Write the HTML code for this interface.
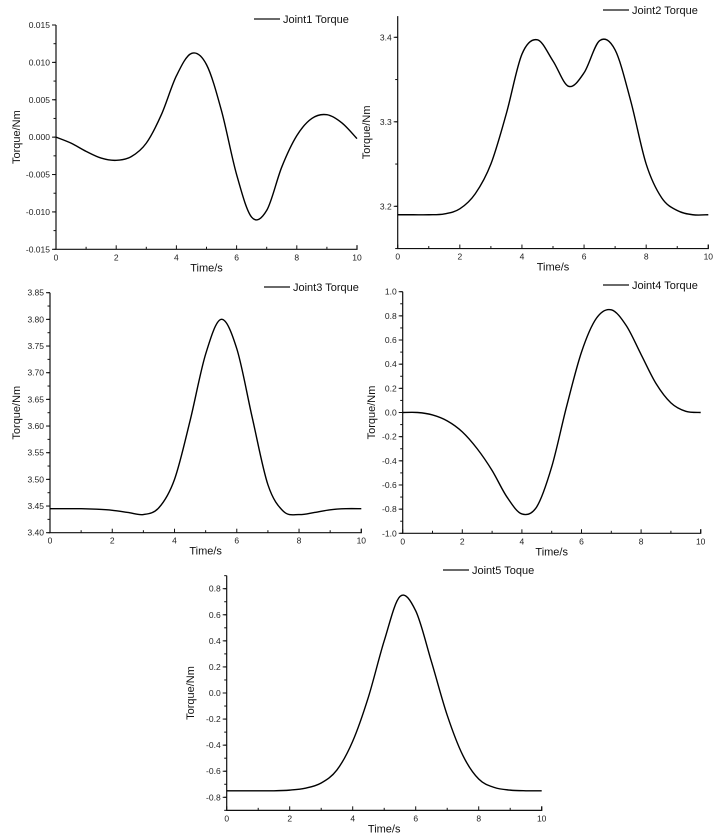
<!DOCTYPE html>
<html><head><meta charset="utf-8"><style>
body{margin:0;background:#fff;}
svg{display:block;font-family:"Liberation Sans",Arial,sans-serif;}
</style></head><body>
<svg id="c" width="725" height="838" viewBox="0 0 725 838"></svg>
<script>
const times=[0,0.5,1,1.5,2,2.5,3,3.5,4,4.5,5,5.5,6,6.5,7,7.5,8,8.5,9,9.5,10];
const joint1=[0,-0.0008,-0.0019,-0.0028,-0.0031,-0.0026,-0.0008,0.003,0.0082,0.0112,0.0097,0.0035,-0.005,-0.0107,-0.0098,-0.004,0.0002,0.0025,0.003,0.0019,-0.0002];
const joint2=[3.19,3.19,3.19,3.191,3.197,3.215,3.25,3.31,3.38,3.397,3.372,3.342,3.358,3.396,3.385,3.325,3.25,3.21,3.195,3.19,3.19];
const joint3=[3.445,3.445,3.445,3.444,3.442,3.438,3.434,3.447,3.5,3.61,3.735,3.80,3.745,3.615,3.49,3.44,3.434,3.438,3.443,3.445,3.445];
const joint4=[0,0,-0.02,-0.07,-0.16,-0.3,-0.48,-0.7,-0.84,-0.78,-0.45,0.05,0.5,0.78,0.85,0.72,0.48,0.24,0.08,0.01,0];
const joint5=[-0.75,-0.75,-0.75,-0.75,-0.745,-0.73,-0.69,-0.59,-0.37,-0.03,0.4,0.74,0.63,0.24,-0.17,-0.48,-0.66,-0.725,-0.745,-0.75,-0.75];
const xTicks=[0,2,4,6,8,10];
const ticks1=["0.015","0.010","0.005","0.000","-0.005","-0.010","-0.015"];
const ticks2=["3.2","3.3","3.4"];
const ticks3=["3.85","3.80","3.75","3.70","3.65","3.60","3.55","3.50","3.45","3.40"];
const ticks4=["1.0","0.8","0.6","0.4","0.2","0.0","-0.2","-0.4","-0.6","-0.8","-1.0"];
const ticks5=["0.8","0.6","0.4","0.2","0.0","-0.2","-0.4","-0.6","-0.8"];
const NS="http://www.w3.org/2000/svg";
const svg=document.getElementById('c');
function mk(tag,attrs,parent){const e=document.createElementNS(NS,tag);for(const k in attrs)e.setAttribute(k,attrs[k]);(parent||svg).appendChild(e);return e;}
function panel(p){
  const g=mk('g',{});
  
  
  const sx=v=>p.x0+(v-0)/(10-0)*(p.x1-p.x0);
  const sy=v=>p.yA+(v-p.vA)/(p.vB-p.vA)*(p.yB-p.yA);
  const yTop=sy(p.top), yBot=sy(p.bot);
  const ax=mk('path',{d:`M${p.x0},${yTop}V${yBot}H${p.x1}V${yBot-4}`,stroke:'#111',fill:'none','stroke-width':1.2},g);
  
  
  for(let t=0;t<=10;t+=1){
    const major=t%2===0;
    mk('line',{x1:sx(t),x2:sx(t),y1:yBot,y2:yBot-(major?4:2.5),stroke:'#111','stroke-width':1},g);
  }
  xTicks.forEach(t=>{
    const tx=mk('text',{x:sx(t),y:yBot+11,'font-size':8.5,'text-anchor':'middle',fill:'#222'},g);
    tx.textContent=t;
    
    
  });
  p.ticks.forEach(s=>{
    const v=parseFloat(s),y=sy(v);
    mk('line',{x1:p.x0,x2:p.x0-4,y1:y,y2:y,stroke:'#111','stroke-width':1},g);
    const tx=mk('text',{x:p.x0-6,y:y+3,'font-size':8.5,'text-anchor':'end',fill:'#222'},g);
    tx.textContent=s;
    
    
  });
  for(let v=p.bot;v<=p.top+1e-9;v+=p.minor){
    mk('line',{x1:p.x0,x2:p.x0-2.5,y1:sy(v),y2:sy(v),stroke:'#111','stroke-width':1},g);
  }
  const xl=mk('text',{x:(p.x0+p.x1)/2,y:yBot+22,'font-size':11,'text-anchor':'middle',fill:'#111'},g);
  xl.textContent='Time/s';
  
  
  const yc=(yTop+yBot)/2;
  const yl=mk('text',{x:p.ylx,y:yc,'font-size':11,'text-anchor':'middle',fill:'#111',transform:`rotate(-90 ${p.ylx} ${yc})`},g);
  yl.textContent='Torque/Nm';
  
  
  mk('line',{x1:p.lx,x2:p.lx+26,y1:p.ly,y2:p.ly,stroke:'#111','stroke-width':1.3},g);
  const lt=mk('text',{x:p.lx+29,y:p.ly+4,'font-size':11,fill:'#111'},g);
  lt.textContent=p.label;
  
  
  const pts=times.map((t,i)=>[sx(t),sy(p.data[i])]);
  let d=`M${pts[0][0]},${pts[0][1]}`;
  for(let i=0;i<pts.length-1;i++){
    const p0=pts[Math.max(0,i-1)],p1=pts[i],p2=pts[i+1],p3=pts[Math.min(pts.length-1,i+2)];
    d+=`C${p1[0]+(p2[0]-p0[0])/6},${p1[1]+(p2[1]-p0[1])/6} ${p2[0]-(p3[0]-p1[0])/6},${p2[1]-(p3[1]-p1[1])/6} ${p2[0]},${p2[1]}`;
  }
  const ln=mk('path',{d:d,stroke:'#000',fill:'none','stroke-width':1.4},g);
  
  
}
panel({name:'joint1-chart',data:joint1,ticks:ticks1,x0:56,x1:357,vA:0.015,yA:25,vB:-0.015,yB:249.3,top:0.015,bot:-0.015,minor:0.0025,ylx:20,lx:254,ly:19,label:'Joint1 Torque'});
panel({name:'joint2-chart',data:joint2,ticks:ticks2,x0:397.7,x1:708.3,vA:3.4,yA:37.3,vB:3.2,yB:206.3,top:3.425,bot:3.15,minor:0.05,ylx:370,lx:603,ly:10,label:'Joint2 Torque'});
panel({name:'joint3-chart',data:joint3,ticks:ticks3,x0:50,x1:361.3,vA:3.85,yA:292.7,vB:3.40,yB:532.7,top:3.85,bot:3.40,minor:0.025,ylx:20,lx:264,ly:287,label:'Joint3 Torque'});
panel({name:'joint4-chart',data:joint4,ticks:ticks4,x0:402.7,x1:700.7,vA:1.0,yA:291.7,vB:-1.0,yB:533.3,top:1.0,bot:-1.0,minor:0.1,ylx:375,lx:603,ly:285,label:'Joint4 Torque'});
panel({name:'joint5-chart',data:joint5,ticks:ticks5,x0:226.7,x1:541.7,vA:0.8,yA:588.7,vB:-0.8,yB:797.3,top:0.9,bot:-0.9,minor:0.1,ylx:194,lx:443,ly:570,label:'Joint5 Toque'});
</script>
</body></html>
